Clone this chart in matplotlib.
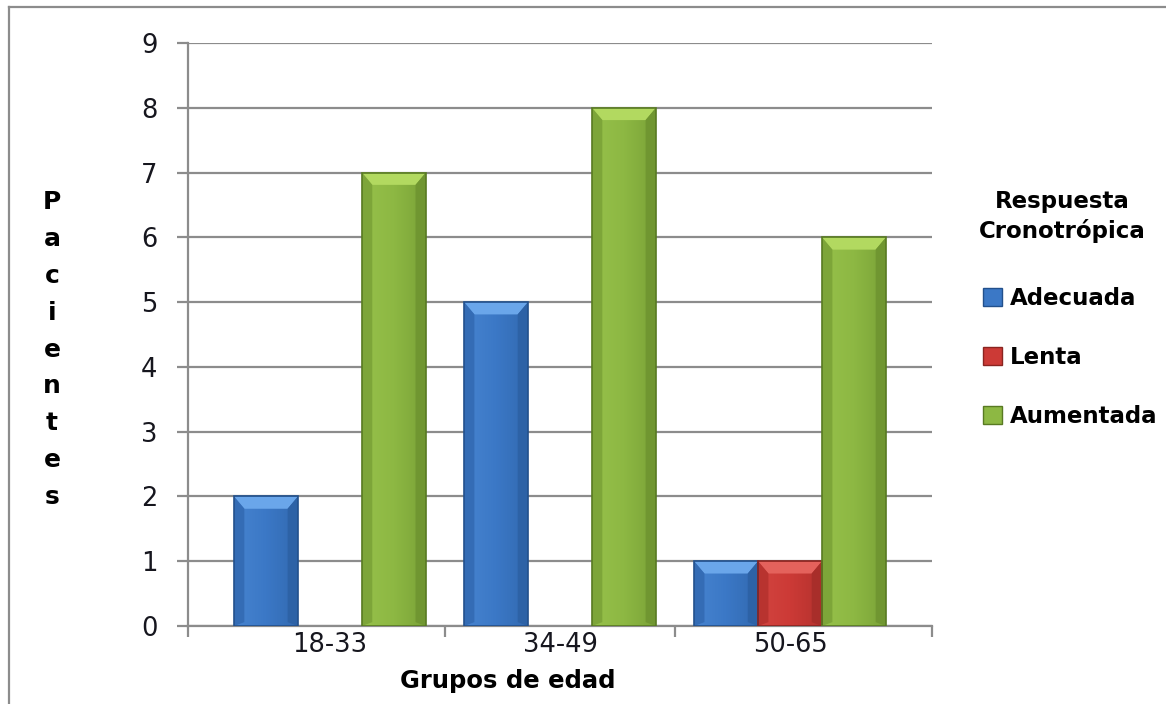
import numpy as np
import matplotlib
matplotlib.use('Agg')
import matplotlib.pyplot as plt
from matplotlib.colors import LinearSegmentedColormap, to_rgb
from matplotlib.patches import Polygon, Patch
from matplotlib.lines import Line2D

groups = ['18-33', '34-49', '50-65']
series = ['Adecuada', 'Lenta', 'Aumentada']
adecuada = [2, 5, 1]
lenta = [0, 0, 1]
aumentada = [7, 8, 6]

# (face, edge, top bevel)
palette = [
    ('#3b78c6', '#22508c', '#6aa6ea'),
    ('#cc3a36', '#8a2420', '#e4625c'),
    ('#8db843', '#587a22', '#b2d960'),
]

W, H = 1166, 704
fig = plt.figure(figsize=(W / 100, H / 100), dpi=100)
ax = fig.add_axes([188 / W, 1 - 626 / H, (932 - 188) / W, (626 - 43) / H])

grid_c = '#8c8c8c'
x = np.arange(len(groups))
width = 0.278
offsets = [-width, 0.0, width]


def mix(c1, c2, t):
    a, b = np.array(to_rgb(c1)), np.array(to_rgb(c2))
    return tuple(a * (1 - t) + b * t)


for vals, off, (face, edge, top) in zip([adecuada, lenta, aumentada], offsets, palette):
    bars = ax.bar(x + off, vals, width, color=face, linewidth=0, zorder=3)
    cmap = LinearSegmentedColormap.from_list('shade', [mix(face, top, 0.25), face, mix(face, edge, 0.35)])
    for b in bars:
        h = b.get_height()
        if h <= 0:
            continue
        x0 = b.get_x()
        x1 = x0 + b.get_width()
        im = ax.imshow(np.linspace(0, 1, 64)[None, :], cmap=cmap, extent=[x0, x1, 0, h],
                       aspect='auto', zorder=3.1, interpolation='bilinear')
        im.set_clip_path(b)
        dx = 0.045
        dy = min(0.19, h * 0.4)
        # bevelled edges: lighter top, darker sides
        ax.add_patch(Polygon([[x0, h], [x1, h], [x1 - dx, h - dy], [x0 + dx, h - dy]],
                             facecolor=top, edgecolor='none', zorder=3.2))
        ax.add_patch(Polygon([[x0, h], [x0 + dx, h - dy], [x0 + dx, 0.06], [x0, 0]],
                             facecolor=mix(face, edge, 0.3), edgecolor='none', zorder=3.2))
        ax.add_patch(Polygon([[x1, h], [x1 - dx, h - dy], [x1 - dx, 0.06], [x1, 0]],
                             facecolor=mix(face, edge, 0.55), edgecolor='none', zorder=3.2))
    outline = ax.bar(x + off, vals, width, fill=False, edgecolor=edge, linewidth=1.2, zorder=3.4)
    for b in outline:
        if b.get_height() <= 0:
            b.set_visible(False)

ax.set_xlim(-0.617, 2.617)
ax.set_ylim(0, 9)
ax.set_yticks(range(10))
ax.yaxis.grid(True, color=grid_c, linewidth=1.6)
ax.set_axisbelow(True)
for side in ('top', 'right'):
    ax.spines[side].set_visible(False)
for side in ('left', 'bottom'):
    ax.spines[side].set_color(grid_c)
    ax.spines[side].set_linewidth(1.6)

ax.set_xticks(x, groups)
ax.set_xticks([-0.615, 0.5, 1.5, 2.615], minor=True)
ax.tick_params(axis='x', which='major', length=0, pad=4, labelsize=18.5, labelcolor='#16161e')
ax.tick_params(axis='x', which='minor', length=8, width=1.6, color=grid_c)
ax.tick_params(axis='y', length=8, width=1.6, color=grid_c, pad=14,
               labelsize=18.5, labelcolor='#16161e')

fig.text(508 / W, 1 - 688 / H, 'Grupos de edad', ha='center', va='baseline',
         fontsize=17.5, fontweight='bold')

for i, ch in enumerate('Pacientes'):
    fig.text(52 / W, 1 - (202 + i * 36.9) / H, ch, ha='center', va='center',
             fontsize=18, fontweight='bold')

fig.text(1062 / W, 1 - 238 / H, 'Respuesta\nCronotrópica', ha='center', va='baseline',
         fontsize=16.5, fontweight='bold', linespacing=1.33, multialignment='center')

handles = [Patch(facecolor=f, edgecolor=e, linewidth=1.0) for f, e, _ in palette]
fig.legend(handles, series, loc='upper left', bbox_to_anchor=(983 / W, 1 - 287 / H),
           frameon=False, prop={'weight': 'bold', 'size': 16.5},
           handlelength=0.83, handleheight=0.83, handletextpad=0.35,
           labelspacing=1.57, borderpad=0, borderaxespad=0)

# outer frame
fig.add_artist(Line2D([9 / W, 9 / W], [0, 1 - 7 / H], color=grid_c, lw=1.6,
                      transform=fig.transFigure))
fig.add_artist(Line2D([9 / W, 1], [1 - 7 / H, 1 - 7 / H], color=grid_c, lw=1.6,
                      transform=fig.transFigure))

fig.savefig('out.png', dpi=100)
